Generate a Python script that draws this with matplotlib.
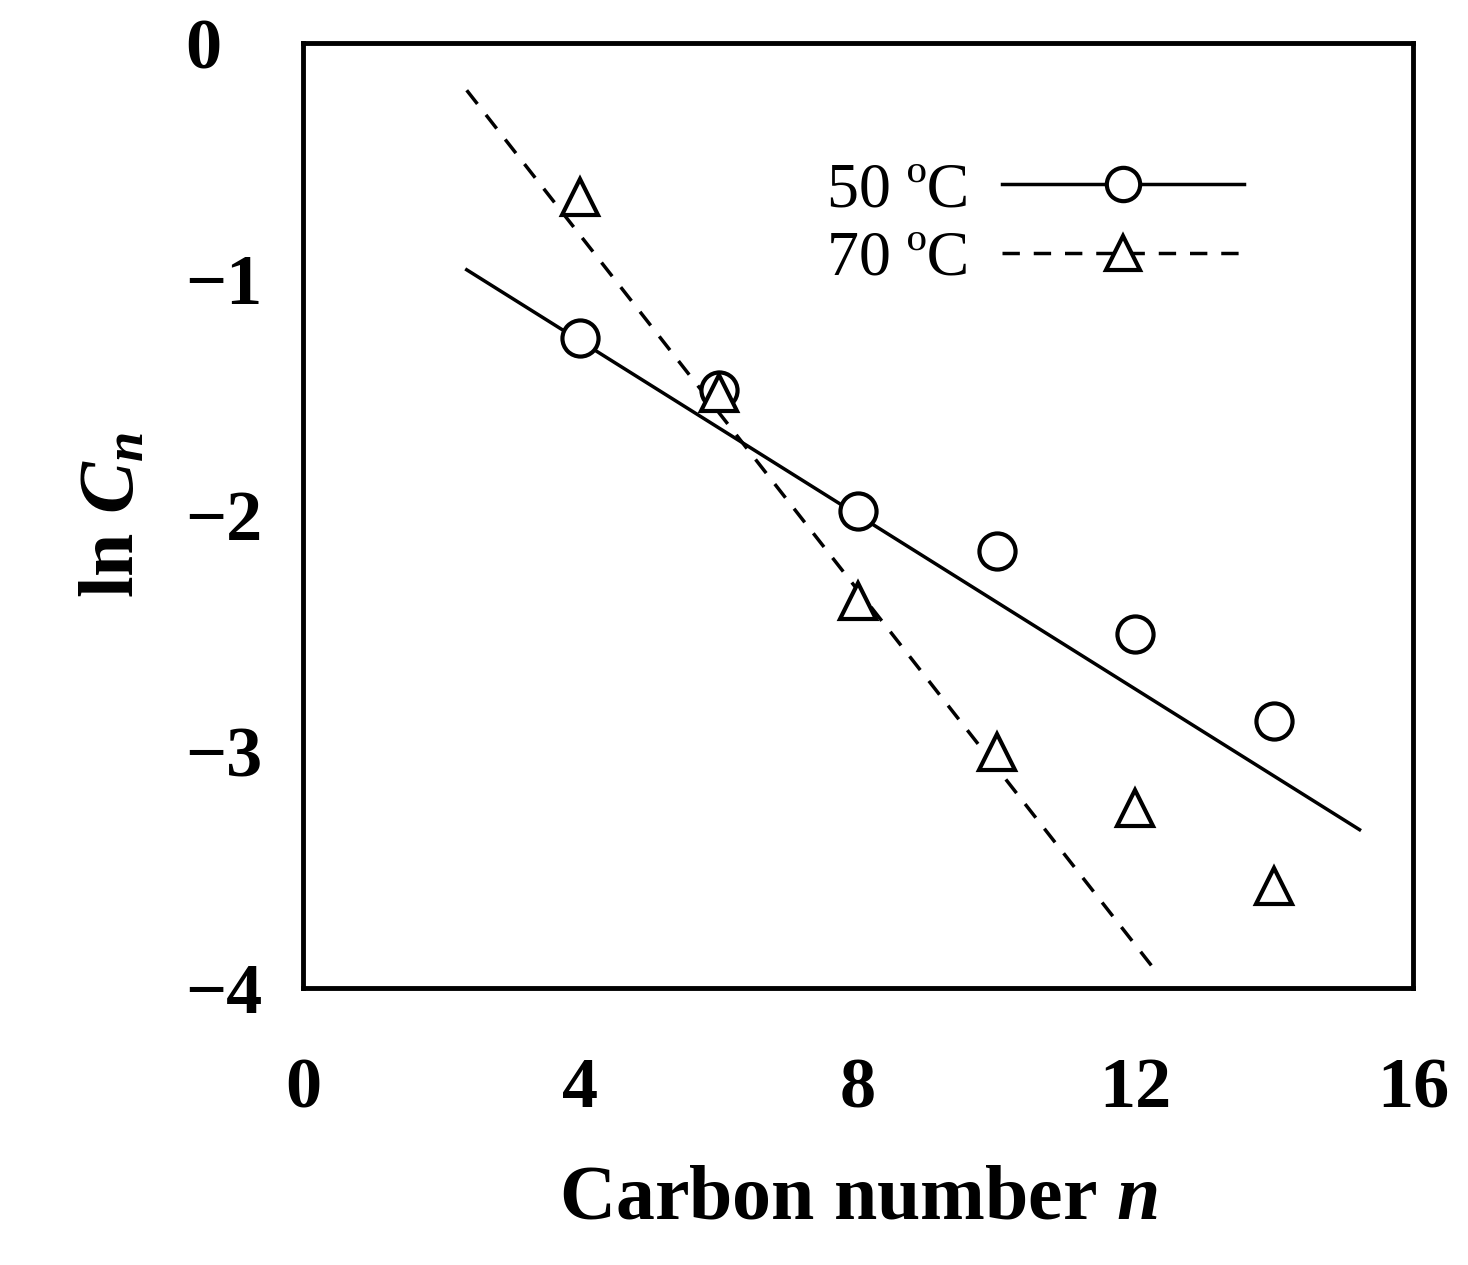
import matplotlib
matplotlib.use("Agg")
import matplotlib.pyplot as plt

n_vals = [4, 6, 8, 10, 12, 14]
ln_50 = [-1.25, -1.47, -1.98, -2.15, -2.50, -2.87]
ln_70 = [-0.65, -1.48, -2.36, -3.00, -3.24, -3.57]
fit50_x = [2.36, 15.23]
fit50_y = [-0.96, -3.33]
fit70_x = [2.36, 12.35]
fit70_y = [-0.20, -3.95]
xticks = [0, 4, 8, 12, 16]
yticks = [0, -1, -2, -3, -4]

plt.rcParams['font.family'] = ['Liberation Serif', 'DejaVu Serif']
plt.rcParams['mathtext.fontset'] = 'custom'
plt.rcParams['mathtext.it'] = 'Liberation Serif:italic:bold'
plt.rcParams['mathtext.rm'] = 'Liberation Serif:bold'
fig = plt.figure(figsize=(14.68, 12.65), dpi=100)
ax = fig.add_axes([0.2064, 0.219, 0.7561, 0.747])

ax.plot(fit50_x, fit50_y, color='black', lw=2.5)
ax.plot(fit70_x, fit70_y, color='black', lw=2.5, ls=(0, (5, 4)))
ax.plot(n_vals, ln_50, 'o', ms=26, mfc='white', mec='black', mew=3)
ax.plot(n_vals, ln_70, '^', ms=26, mfc='white', mec='black', mew=3)

h1, = ax.plot([], [], '-o', color='black', lw=2.5, ms=24, mfc='white', mew=3)
h2, = ax.plot([], [], '^', color='black', ls=(0, (5, 4)), lw=2.5, ms=24, mfc='white', mew=3)
leg = ax.legend([h1, h2], ['50 ºC', '70 ºC'], loc='upper right', bbox_to_anchor=(0.9, 0.935),
                frameon=False, fontsize=46, markerfirst=False, handlelength=3.8,
                labelspacing=0.15, handletextpad=0.5)

ax.set_xlim(0, 16)
ax.set_ylim(-4, 0)
ax.set_xticks(xticks)
ax.set_yticks(yticks)
ax.set_yticklabels(['0', '−1', '−2', '−3', '−4'])
ax.tick_params(length=0, labelsize=52)
ax.tick_params(axis='y', pad=85)
ax.tick_params(axis='x', pad=50)
for lab in ax.get_yticklabels():
    lab.set_horizontalalignment('left')
for lab in ax.get_xticklabels() + ax.get_yticklabels():
    lab.set_fontweight('bold')
for s in ax.spines.values():
    s.set_linewidth(3.5)
ax.set_xlabel('Carbon number $\\mathit{n}$', fontsize=56, fontweight='bold', labelpad=30)
ax.set_ylabel('ln $\\mathit{C_n}$', fontsize=56, fontweight='bold', labelpad=25)
fig.savefig('out.png', dpi=100)
